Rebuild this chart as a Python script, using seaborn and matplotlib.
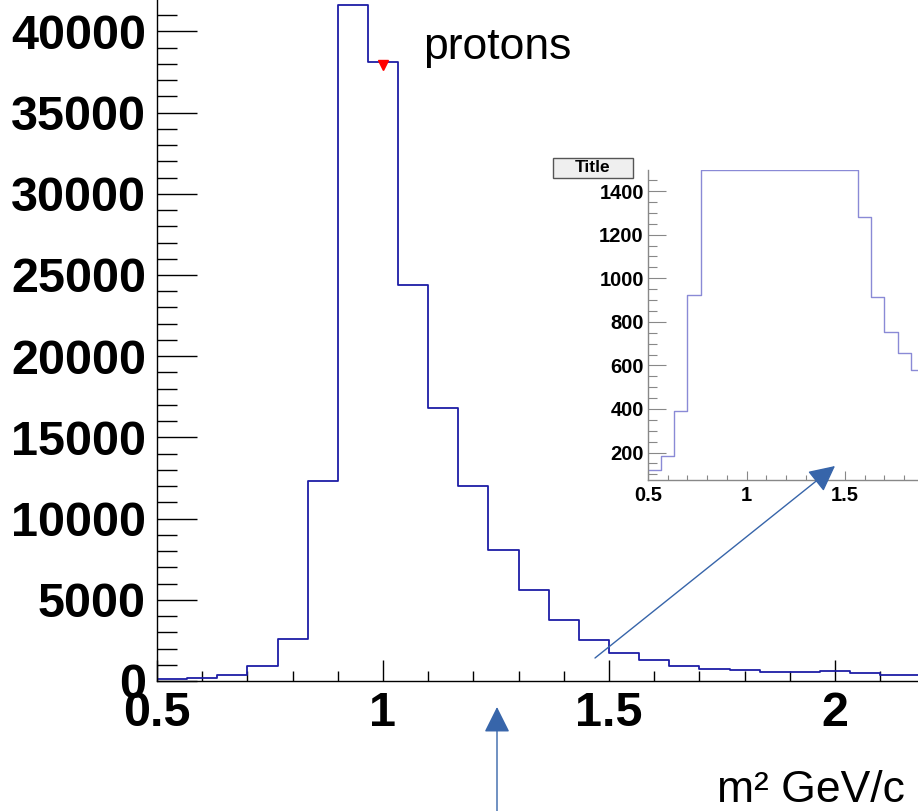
import numpy as np
import pandas as pd
import matplotlib
matplotlib.use("Agg")
import matplotlib.pyplot as plt
from matplotlib.ticker import MultipleLocator
from matplotlib.patches import Rectangle, FancyArrowPatch
import seaborn as sns

# ---- data ----
bin_start = 0.5
bin_width = 1.0 / 15.0
counts = [120, 185, 389, 922, 2570, 12300, 41630, 38120, 24390, 16810,
          12010, 8070, 5600, 3760, 2520, 1740, 1280, 915, 755, 655,
          580, 565, 605, 500, 400, 380]
marker_x = [1.0]
marker_y = [37950]
annotation_text = "protons"
x_label = "m\u00b2 GeV/c"
inset_title = "Title"

edges = (bin_start + bin_width * np.arange(len(counts) + 1)).tolist()
centers = [(a + b) / 2 for a, b in zip(edges[:-1], edges[1:])]
df = pd.DataFrame({"x": centers, "w": counts})

sns.set_theme(style="white")
plt.rcParams["font.family"] = ["Liberation Sans", "DejaVu Sans"]
plt.rcParams["text.color"] = "black"
plt.rcParams["xtick.labelcolor"] = "black"
plt.rcParams["ytick.labelcolor"] = "black"

W, H = 918, 811
fig = plt.figure(figsize=(W / 100, H / 100), dpi=100)

# ---- main axes ----
ax_l, ax_b = 157, 681
ax = fig.add_axes([ax_l / W, (H - ax_b) / H, (W - ax_l) / W, ax_b / H])
sns.histplot(data=df, x="x", weights="w", bins=edges, element="step",
             fill=False, color="#1e1ea6", linewidth=1.3, ax=ax, legend=False)
ax.plot(marker_x, marker_y, marker="v", color="red", markersize=6.5,
        linestyle="none", zorder=5)
ax.set_xlim(0.5, 0.5 + (W - ax_l) / 452.0)
ax.set_ylim(0, ax_b / 81.2 * 5000)
ax.set_xlabel("")
ax.set_ylabel("")
for s in ["top", "right"]:
    ax.spines[s].set_visible(False)
for s in ["left", "bottom"]:
    ax.spines[s].set_color("black")
    ax.spines[s].set_linewidth(1.0)
ax.xaxis.set_major_locator(MultipleLocator(0.5))
ax.xaxis.set_minor_locator(MultipleLocator(0.1))
ax.yaxis.set_major_locator(MultipleLocator(5000))
ax.yaxis.set_minor_locator(MultipleLocator(1000))
ax.xaxis.set_major_formatter(matplotlib.ticker.FuncFormatter(lambda v, p: f"{v:g}"))
ax.tick_params(axis="x", which="major", direction="in", length=15, width=1,
               color="black", labelcolor="black", pad=7, labelsize=35)
ax.tick_params(axis="x", which="minor", direction="in", length=7.5, width=1,
               color="black")
ax.tick_params(axis="y", which="major", direction="in", length=29, width=1,
               color="black", labelcolor="black", pad=8, labelsize=35)
ax.tick_params(axis="y", which="minor", direction="in", length=14.5, width=1,
               color="black")
ax.tick_params(bottom=True, left=True, which="both")
for lab in ax.get_xticklabels() + ax.get_yticklabels():
    lab.set_fontweight("bold")
ax.text(423 / W, (H - 47) / H, annotation_text, transform=fig.transFigure,
        fontsize=32, ha="left", va="center", color="black")
fig.text(905 / W, (H - 790) / H, x_label, fontsize=32, ha="right",
         va="center", color="black")

# ---- inset axes ----
in_l, in_t, in_b = 648, 170, 480
ax2 = fig.add_axes([in_l / W, (H - in_b) / H, (W - in_l) / W, (in_b - in_t) / H])
in_ylim = (74, 1497)
df_in = pd.DataFrame({"x": centers,
                      "w": np.minimum(np.array(counts, float), in_ylim[1] - 2)})
sns.histplot(data=df_in, x="x", weights="w", bins=edges, element="step",
             fill=False, color="#8a8ad6", linewidth=1.0, ax=ax2, legend=False)
ax2.set_xlim(0.5, 0.5 + (W - in_l) / 197.0)
ax2.set_ylim(*in_ylim)
ax2.set_xlabel("")
ax2.set_ylabel("")
for s in ["top", "right"]:
    ax2.spines[s].set_visible(False)
for s in ["left", "bottom"]:
    ax2.spines[s].set_color("#888888")
    ax2.spines[s].set_linewidth(1.0)
ax2.xaxis.set_major_locator(MultipleLocator(0.5))
ax2.xaxis.set_minor_locator(MultipleLocator(0.1))
ax2.yaxis.set_major_locator(MultipleLocator(200))
ax2.yaxis.set_minor_locator(MultipleLocator(50))
ax2.xaxis.set_major_formatter(matplotlib.ticker.FuncFormatter(lambda v, p: f"{v:g}"))
ax2.tick_params(axis="x", which="major", direction="in", length=6.5, width=0.8,
                color="#888888", labelcolor="black", pad=4, labelsize=14.5)
ax2.tick_params(axis="x", which="minor", direction="in", length=3.5, width=0.8,
                color="#888888")
ax2.tick_params(axis="y", which="major", direction="in", length=13, width=0.8,
                color="#888888", labelcolor="black", pad=3, labelsize=14.5)
ax2.tick_params(axis="y", which="minor", direction="in", length=6.5, width=0.8,
                color="#888888")
ax2.tick_params(bottom=True, left=True, which="both")
for lab in ax2.get_xticklabels() + ax2.get_yticklabels():
    lab.set_fontweight("bold")
ax2.patch.set_alpha(0)

# title box
fig.patches.append(Rectangle((553 / W, (H - 178) / H), 80 / W, 20 / H,
                             transform=fig.transFigure, facecolor="#efefef",
                             edgecolor="#555555", linewidth=1.0))
fig.text(593 / W, (H - 168) / H, inset_title, fontsize=12.5, fontweight="bold",
         ha="center", va="center", color="black")

# arrows
arrow_color = "#3765aa"
for (x0, y0), (x1, y1) in [((497, 811), (497, 707)), ((595, 658), (835, 466))]:
    arr = FancyArrowPatch((x0 / W, (H - y0) / H), (x1 / W, (H - y1) / H),
                          transform=fig.transFigure,
                          arrowstyle="-|>,head_length=0.8,head_width=0.4",
                          mutation_scale=20, color=arrow_color, linewidth=1.0,
                          shrinkA=0, shrinkB=0)
    fig.patches.append(arr)

fig.savefig("out.png", dpi=100)
